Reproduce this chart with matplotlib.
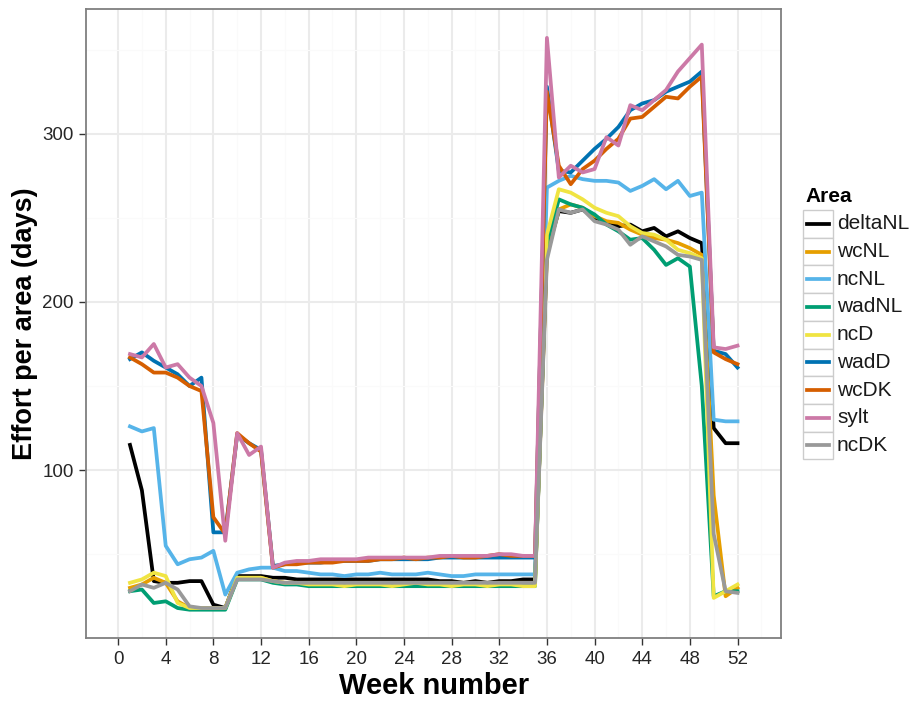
import numpy as np
import matplotlib
matplotlib.use("Agg")
import matplotlib.pyplot as plt
from matplotlib.patches import Rectangle
from matplotlib.lines import Line2D

plt.rcParams['font.family'] = ['Liberation Sans', 'DejaVu Sans']

weeks = np.arange(1, 53)

deltaNL = [115, 88, 34, 33, 33, 34, 34, 20, 18, 37, 37, 37, 36, 36, 35, 35, 35, 35, 35, 35,
           35, 35, 35, 35, 35, 35, 34, 34, 33, 34, 33, 34, 34, 35, 35, 230, 254, 253, 255, 250,
           247, 245, 246, 242, 244, 239, 242, 238, 235, 125, 116, 116]
wcNL = [30, 32, 36, 33, 22, 18, 18, 18, 18, 36, 36, 36, 34, 33, 33, 33, 33, 33, 33, 33,
        33, 33, 33, 33, 33, 33, 33, 33, 33, 33, 33, 33, 33, 33, 33, 228, 255, 258, 256, 251,
        248, 247, 243, 240, 238, 237, 235, 232, 228, 85, 25, 30]
ncNL = [126, 123, 125, 55, 44, 47, 48, 52, 26, 39, 41, 42, 42, 40, 40, 39, 38, 38, 37, 38,
        38, 39, 38, 38, 38, 39, 38, 37, 37, 38, 38, 38, 38, 38, 38, 268, 272, 275, 273, 272,
        272, 271, 266, 269, 273, 267, 272, 263, 265, 130, 129, 129]
wadNL = [28, 29, 21, 22, 18, 17, 17, 17, 17, 35, 35, 35, 33, 32, 32, 31, 31, 31, 31, 31,
         31, 31, 31, 31, 31, 31, 31, 31, 31, 31, 31, 31, 31, 31, 31, 235, 261, 258, 256, 252,
         246, 242, 237, 238, 231, 222, 226, 221, 150, 25, 28, 28]
ncD = [33, 35, 39, 37, 21, 18, 18, 18, 18, 36, 36, 36, 34, 33, 33, 32, 32, 32, 31, 32,
       32, 32, 31, 32, 33, 32, 32, 31, 32, 32, 31, 32, 32, 31, 31, 240, 267, 265, 261, 256,
       253, 251, 245, 241, 240, 237, 231, 229, 226, 24, 28, 32]
wadD = [166, 170, 165, 161, 157, 150, 155, 63, 63, 121, 116, 112, 43, 44, 45, 45, 45, 46, 46, 46,
        46, 47, 47, 47, 47, 47, 48, 48, 48, 48, 48, 48, 48, 48, 48, 328, 278, 277, 284, 291,
        297, 304, 314, 318, 320, 325, 328, 331, 337, 171, 169, 161]
wcDK = [167, 163, 158, 158, 155, 150, 147, 72, 62, 122, 116, 111, 42, 44, 44, 45, 45, 45, 46, 46,
        46, 47, 47, 48, 47, 48, 48, 49, 48, 48, 49, 50, 49, 49, 49, 325, 281, 270, 279, 284,
        291, 297, 309, 310, 316, 322, 321, 328, 334, 170, 166, 163]
sylt = [169, 167, 175, 161, 163, 155, 150, 128, 58, 122, 109, 114, 42, 45, 46, 46, 47, 47, 47, 47,
        48, 48, 48, 48, 48, 48, 49, 49, 49, 49, 49, 50, 50, 49, 49, 357, 274, 281, 277, 279,
        298, 293, 317, 314, 320, 326, 337, 345, 353, 173, 172, 174]
ncDK = [28, 32, 30, 33, 29, 19, 18, 18, 18, 35, 35, 35, 34, 33, 33, 33, 33, 33, 33, 33,
        33, 33, 33, 33, 33, 33, 33, 33, 33, 33, 33, 33, 33, 33, 33, 225, 255, 253, 255, 248,
        246, 243, 234, 239, 236, 233, 228, 227, 225, 62, 28, 27]

areas = ['deltaNL', 'wcNL', 'ncNL', 'wadNL', 'ncD', 'wadD', 'wcDK', 'sylt', 'ncDK']
series = [deltaNL, wcNL, ncNL, wadNL, ncD, wadD, wcDK, sylt, ncDK]
colours = ['#000000', '#E69F00', '#56B4E9', '#009E73', '#F0E442',
           '#0072B2', '#D55E00', '#CC79A7', '#999999']

W, H = 912, 702
fig = plt.figure(figsize=(W / 100, H / 100), dpi=100)
ax = fig.add_axes([86.5 / W, 1 - 638.3 / H, (781 - 86.5) / W, (638.3 - 9.3) / H])

for vals, col in zip(series, colours):
    ax.plot(weeks, vals, color=col, lw=2.7, solid_joinstyle='round', zorder=3)

ax.set_xlim(-2.65, 55.65)
ax.set_ylim(0, 374)
ax.set_xticks(np.arange(0, 53, 4))
ax.set_xticks(np.arange(2, 55, 4), minor=True)
ax.set_yticks([100, 200, 300])
ax.set_yticks([50, 150, 250, 350], minor=True)
ax.grid(which='major', color='#EBEBEB', lw=1.5, zorder=0)
ax.grid(which='minor', color='#FAFAFA', lw=0.8, zorder=0)
ax.set_axisbelow(True)
for sp in ax.spines.values():
    sp.set_color('#7F7F7F')
    sp.set_linewidth(1.3)
ax.tick_params(which='major', length=5, width=1, color='#333333',
               labelsize=13.5, labelcolor='#262626', pad=4)
ax.tick_params(which='minor', length=0)

ax.set_xlabel('Week number', fontsize=21, fontweight='bold', labelpad=3)
ax.set_ylabel('Effort per area (days)', fontsize=19.5, fontweight='bold', labelpad=3)

# legend drawn in pixel coordinates
def px(x, y):
    return x / W, 1 - y / H

fig.text(*px(805, 197), 'Area', fontsize=15, fontweight='bold', va='center', ha='left')
top, step = 210, 27.7
for i, (name, col) in enumerate(zip(areas, colours)):
    y0 = top + i * step
    x0, y1 = px(803, y0 + step)
    fig.add_artist(Rectangle((x0, y1), 30 / W, step / H, transform=fig.transFigure,
                             facecolor='white', edgecolor='#CCCCCC', lw=1))
    ly = px(0, y0 + step / 2)[1]
    fig.add_artist(Line2D([807 / W, 829 / W], [ly, ly], transform=fig.transFigure,
                          color=col, lw=2.7))
    fig.text(837 / W, ly, name, fontsize=15, va='center', ha='left', color='#1a1a1a')

fig.savefig('out.png', dpi=100)
